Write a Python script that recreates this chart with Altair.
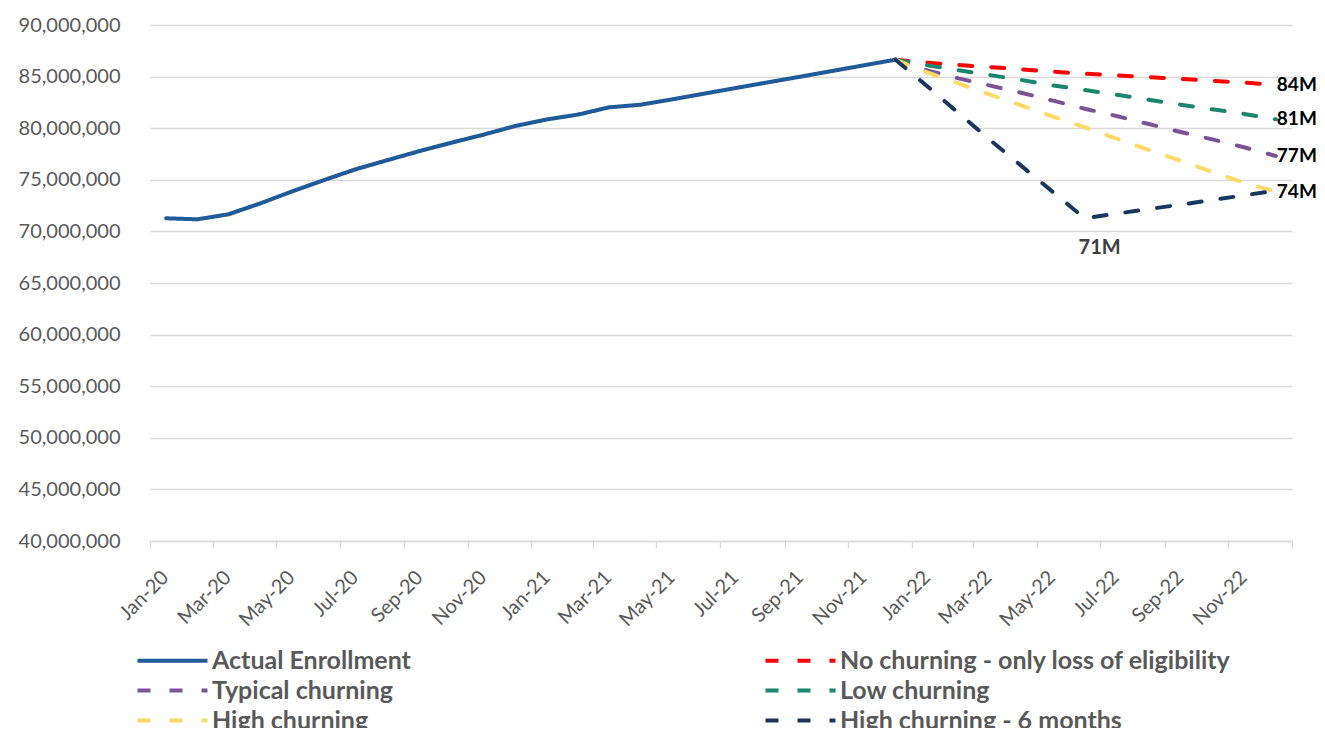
import altair as alt
import pandas as pd

# ---------------- data ----------------
months = ["Jan-20", "Feb-20", "Mar-20", "Apr-20", "May-20", "Jun-20", "Jul-20", "Aug-20",
          "Sep-20", "Oct-20", "Nov-20", "Dec-20", "Jan-21", "Feb-21", "Mar-21", "Apr-21",
          "May-21", "Jun-21", "Jul-21", "Aug-21", "Sep-21", "Oct-21", "Nov-21", "Dec-21",
          "Jan-22", "Feb-22", "Mar-22", "Apr-22", "May-22", "Jun-22", "Jul-22", "Aug-22",
          "Sep-22", "Oct-22", "Nov-22", "Dec-22"]

actual = [71270000, 71170000, 71660000, 72720000, 73880000, 74970000, 76020000, 76920000,
          77790000, 78600000, 79370000, 80210000, 80860000, 81320000, 82020000, 82280000,
          82800000, 83350000, 83900000, 84450000, 84990000, 85540000, 86090000, 86640000]

# projections: Dec-21 .. Dec-22
no_churn = [86640000, 86350000, 86120000, 85930000, 85700000, 85480000, 85280000,
            85120000, 84960000, 84770000, 84600000, 84410000, 84220000]
typical = [86640000, 85580000, 84830000, 84150000, 83440000, 82670000, 81890000,
           81180000, 80410000, 79630000, 78920000, 78150000, 77310000]
low = [86640000, 86090000, 85610000, 85160000, 84670000, 84150000, 83700000,
       83250000, 82760000, 82280000, 81830000, 81380000, 80860000]
high = [86640000, 85380000, 84350000, 83280000, 82220000, 81120000, 80090000,
        78990000, 77890000, 76850000, 75760000, 74720000, 73850000]
high6 = [86640000, 84020000, 81470000, 78920000, 76370000, 73820000, 71270000,
         71720000, 72170000, 72590000, 73040000, 73500000, 73950000]

series_names = ["Actual Enrollment", "No churning - only loss of eligibility",
                "Typical churning", "Low churning", "High churning",
                "High churning - 6 months"]
series_colors = ["#1F5A99", "#FF0000", "#7B5296", "#1A8470", "#FFD966", "#17375E"]
series_dash = [[1, 0], [13, 19], [13, 19], [13, 19], [13, 19], [13, 19]]

end_label_series = ["No churning - only loss of eligibility", "Low churning",
                    "Typical churning", "High churning"]
end_label_texts = ["84M", "81M", "77M", "74M"]
min_label_series = "High churning - 6 months"
min_label_month = "Jun-22"
min_label_text = "71M"

tick_months = ["Jan-20", "Mar-20", "May-20", "Jul-20", "Sep-20", "Nov-20", "Jan-21",
               "Mar-21", "May-21", "Jul-21", "Sep-21", "Nov-21", "Jan-22", "Mar-22",
               "May-22", "Jul-22", "Sep-22", "Nov-22", "Jan-23"]

# ---------------- build table ----------------
def mid_month(label):
    start = pd.to_datetime(label, format="%b-%y")
    nxt = start + pd.offsets.MonthBegin(1)
    return (start + (nxt - start) / 2).strftime("%Y-%m-%dT%H:%M:%SZ")

proj_months = months[23:]
series_values = {
    "Actual Enrollment": (months[:24], actual),
    "No churning - only loss of eligibility": (proj_months, no_churn),
    "Typical churning": (proj_months, typical),
    "Low churning": (proj_months, low),
    "High churning": (proj_months, high),
    "High churning - 6 months": (proj_months, high6),
}
rows = []
for s in series_names:
    ms, vs = series_values[s]
    for m, v in zip(ms, vs):
        rows.append({"series": s, "date": mid_month(m), "value": v})
df = pd.DataFrame(rows)

end_rows = []
for s, t in zip(end_label_series, end_label_texts):
    ms, vs = series_values[s]
    end_rows.append({"date": mid_month(ms[-1]), "value": vs[-1], "text": t})
end_df = pd.DataFrame(end_rows)

ms, vs = series_values[min_label_series]
min_df = pd.DataFrame([{"date": mid_month(min_label_month),
                        "value": vs[ms.index(min_label_month)], "text": min_label_text}])


def dt(label):
    d = pd.to_datetime(label, format="%b-%y")
    return alt.DateTime(year=d.year, month=d.month, date=1, utc=True)


FONT = "Lato"
GRAY = "#595959"
GRID = "#D9D9D9"

x_enc = alt.X(
    "date:T",
    scale=alt.Scale(type="utc", domain=[dt("Jan-20"), dt("Jan-23")]),
    axis=alt.Axis(
        values=[dt(m) for m in tick_months],
        format="%b-%y",
        labelExpr="utcyear(datum.value) >= 2023 ? '' : datum.label",
        labelAngle=-45, labelAlign="right", labelBaseline="top",
        labelOffset=8, labelPadding=19, labelOverlap=False, labelFlush=False,
        labelFont=FONT, labelFontSize=20, labelColor=GRAY,
        tickSize=7, tickColor=GRID, tickWidth=1.3,
        domainColor=GRID, domainWidth=1.3, grid=False, title=None,
    ),
)
y_enc = alt.Y(
    "value:Q",
    scale=alt.Scale(domain=[40000000, 90000000], nice=False, zero=False),
    axis=alt.Axis(
        values=list(range(40000000, 90000001, 5000000)),
        format=",.0f", labelFont=FONT, labelFontSize=20, labelColor=GRAY,
        labelPadding=30, ticks=False, domain=False,
        gridColor=GRID, gridWidth=1.3, title=None,
    ),
)

legend = alt.Legend(
    title=None, orient="none", legendX=-15, legendY=623, columns=2, direction="horizontal",
    symbolType="M-1,0H6", symbolSize=400, symbolStrokeWidth=4,
    labelFont=FONT, labelFontWeight="bold", labelFontSize=25, labelColor=GRAY,
    labelLimit=600, labelOffset=52, rowPadding=4, columnPadding=346, padding=0,
)

lines = alt.Chart(df).mark_line(strokeWidth=4, strokeCap="round", strokeJoin="round").encode(
    x=x_enc,
    y=y_enc,
    color=alt.Color("series:N", scale=alt.Scale(domain=series_names, range=series_colors),
                    legend=legend),
    strokeDash=alt.StrokeDash("series:N", scale=alt.Scale(domain=series_names, range=series_dash),
                              legend=legend),
)

end_text = alt.Chart(end_df).mark_text(
    align="left", baseline="middle", dx=1, font=FONT, fontWeight="bold",
    fontSize=19, color="#000000",
).encode(x=x_enc, y=y_enc, text="text:N")

min_text = alt.Chart(min_df).mark_text(
    align="center", baseline="middle", dx=15, dy=30, font=FONT, fontWeight="bold",
    fontSize=20, color="#404040",
).encode(x=x_enc, y=y_enc, text="text:N")

chart = alt.layer(lines, end_text, min_text).properties(
    width=1142, height=516,
    autosize=alt.AutoSizeParams(type="none"),
    padding={"left": 142, "top": 17, "right": 25, "bottom": 187},
).configure_view(stroke=None)

chart.save("out.html", embed_options={"renderer": "svg", "actions": False})
